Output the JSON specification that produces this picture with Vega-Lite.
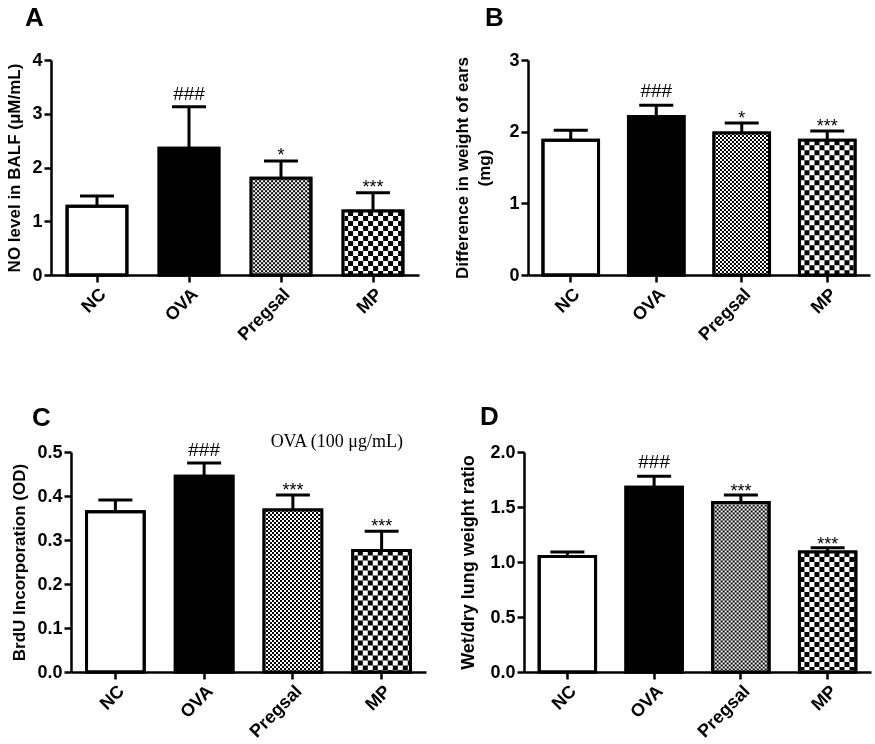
{
  "$schema": "https://vega.github.io/schema/vega-lite/v6.json",
  "background": "white",
  "padding": {"left": 5, "top": 5, "right": 5, "bottom": 5},
  "datasets": {
    "A": [
      {"group": "NC", "mean": 1.28, "upper": 1.47, "label": ""},
      {"group": "OVA", "mean": 2.36, "upper": 3.13, "label": "###"},
      {"group": "Pregsal", "mean": 1.80, "upper": 2.12, "label": "*"},
      {"group": "MP", "mean": 1.19, "upper": 1.53, "label": "***"}
    ],
    "B": [
      {"group": "NC", "mean": 1.88, "upper": 2.02, "label": ""},
      {"group": "OVA", "mean": 2.21, "upper": 2.37, "label": "###"},
      {"group": "Pregsal", "mean": 1.98, "upper": 2.12, "label": "*"},
      {"group": "MP", "mean": 1.88, "upper": 2.01, "label": "***"}
    ],
    "C": [
      {"group": "NC", "mean": 0.364, "upper": 0.391, "label": ""},
      {"group": "OVA", "mean": 0.445, "upper": 0.475, "label": "###"},
      {"group": "Pregsal", "mean": 0.368, "upper": 0.402, "label": "***"},
      {"group": "MP", "mean": 0.276, "upper": 0.320, "label": "***"}
    ],
    "D": [
      {"group": "NC", "mean": 1.05, "upper": 1.09, "label": ""},
      {"group": "OVA", "mean": 1.68, "upper": 1.78, "label": "###"},
      {"group": "Pregsal", "mean": 1.54, "upper": 1.61, "label": "***"},
      {"group": "MP", "mean": 1.09, "upper": 1.13, "label": "***"}
    ]
  },
  "columns": 1,
  "align": "none",
  "spacing": 60,
  "resolve": {"scale": {"x": "independent", "y": "independent", "fill": "independent", "strokeDash": "independent", "strokeWidth": "independent"}},
  "concat": [
    {
      "hconcat": [
        {
          "width": 368, "height": 215,
          "title": {"text": "A", "dx": -26, "offset": 20},
          "data": {"name": "A"},
          "encoding": {"x": {"field": "group", "type": "nominal", "scale": {"domain": ["NC", "OVA", "Pregsal", "MP"], "paddingInner": 0.35, "paddingOuter": 0.175}, "axis": {"zindex": 1}}},
          "layer": [
            {"mark": {"type": "bar", "stroke": "black", "strokeWidth": 3},
             "encoding": {"y": {"field": "mean", "type": "quantitative", "scale": {"domain": [0, 4], "nice": false}, "axis": {"zindex": 1, "values": [0, 1, 2, 3, 4], "format": "d", "title": "NO level in BALF (μM/mL)"}},
                          "fill": {"field": "group", "scale": {"domain": ["NC", "OVA", "Pregsal", "MP"], "range": ["white", "black", "white", "white"]}, "legend": null}}},
            {"transform": [{"filter": "datum.group == 'Pregsal' || datum.group == 'MP'"}],
             "mark": {"type": "rule", "color": "black", "strokeWidth": 59.8},
             "encoding": {"y": {"field": "mean", "type": "quantitative"}, "y2": {"datum": 0},
                          "strokeDash": {"field": "group", "scale": {"domain": ["Pregsal", "MP"], "range": [[2, 2], [5, 5]]}, "legend": null}}},
            {"transform": [{"filter": "datum.group == 'Pregsal' || datum.group == 'MP'"}],
             "mark": {"type": "rule", "color": "white", "blend": "difference", "yOffset": {"expr": "datum.mean * 26.875"}},
             "encoding": {"x": {"field": "group", "type": "nominal", "bandPosition": 0}, "x2": {"field": "group", "bandPosition": 1},
                          "y": {"field": "mean", "type": "quantitative"},
                          "strokeWidth": {"field": "mean", "type": "quantitative", "scale": {"domain": [0, 4], "range": [0, 215]}, "legend": null},
                          "strokeDash": {"field": "group", "legend": null}}},
            {"mark": {"type": "bar", "fill": "transparent", "stroke": "black", "strokeWidth": 3},
             "encoding": {"y": {"field": "mean", "type": "quantitative"}}},
            {"mark": {"type": "rule", "color": "black", "strokeWidth": 3},
             "encoding": {"y": {"field": "mean", "type": "quantitative"}, "y2": {"field": "upper"}}},
            {"mark": {"type": "tick", "color": "black", "size": 34, "thickness": 3, "opacity": 1},
             "encoding": {"y": {"field": "upper", "type": "quantitative"}}},
            {"transform": [{"filter": "datum.label == '###'"}],
             "mark": {"type": "text", "fontSize": 19, "dy": -7, "baseline": "alphabetic", "color": "black"},
             "encoding": {"y": {"field": "upper", "type": "quantitative"}, "text": {"field": "label"}}},
            {"transform": [{"filter": "indexof(datum.label, '*') >= 0"}],
             "mark": {"type": "text", "fontSize": 18, "dy": 0, "baseline": "alphabetic", "color": "black"},
             "encoding": {"y": {"field": "upper", "type": "quantitative"}, "text": {"field": "label"}}}
          ]
        },
        {
          "width": 342, "height": 215,
          "title": {"text": "B", "dx": -43, "offset": 20},
          "data": {"name": "B"},
          "encoding": {"x": {"field": "group", "type": "nominal", "scale": {"domain": ["NC", "OVA", "Pregsal", "MP"], "paddingInner": 0.35, "paddingOuter": 0.175}, "axis": {"zindex": 1}}},
          "layer": [
            {"mark": {"type": "bar", "stroke": "black", "strokeWidth": 3},
             "encoding": {"y": {"field": "mean", "type": "quantitative", "scale": {"domain": [0, 3], "nice": false}, "axis": {"zindex": 1, "values": [0, 1, 2, 3], "format": "d", "title": ["Difference in weight of ears", "(mg)"], "titlePadding": 15, "titleLineHeight": 22}},
                          "fill": {"field": "group", "scale": {"domain": ["NC", "OVA", "Pregsal", "MP"], "range": ["white", "black", "white", "white"]}, "legend": null}}},
            {"transform": [{"filter": "datum.group == 'Pregsal' || datum.group == 'MP'"}],
             "mark": {"type": "rule", "color": "black", "strokeWidth": 55.6},
             "encoding": {"y": {"field": "mean", "type": "quantitative"}, "y2": {"datum": 0},
                          "strokeDash": {"field": "group", "scale": {"domain": ["Pregsal", "MP"], "range": [[2, 2], [5, 5]]}, "legend": null}}},
            {"transform": [{"filter": "datum.group == 'Pregsal' || datum.group == 'MP'"}],
             "mark": {"type": "rule", "color": "white", "blend": "difference", "yOffset": {"expr": "datum.mean * 35.8333"}},
             "encoding": {"x": {"field": "group", "type": "nominal", "bandPosition": 0}, "x2": {"field": "group", "bandPosition": 1},
                          "y": {"field": "mean", "type": "quantitative"},
                          "strokeWidth": {"field": "mean", "type": "quantitative", "scale": {"domain": [0, 3], "range": [0, 215]}, "legend": null},
                          "strokeDash": {"field": "group", "legend": null}}},
            {"mark": {"type": "bar", "fill": "transparent", "stroke": "black", "strokeWidth": 3},
             "encoding": {"y": {"field": "mean", "type": "quantitative"}}},
            {"mark": {"type": "rule", "color": "black", "strokeWidth": 3},
             "encoding": {"y": {"field": "mean", "type": "quantitative"}, "y2": {"field": "upper"}}},
            {"mark": {"type": "tick", "color": "black", "size": 34, "thickness": 3, "opacity": 1},
             "encoding": {"y": {"field": "upper", "type": "quantitative"}}},
            {"transform": [{"filter": "datum.label == '###'"}],
             "mark": {"type": "text", "fontSize": 19, "dy": -8, "baseline": "alphabetic", "color": "black"},
             "encoding": {"y": {"field": "upper", "type": "quantitative"}, "text": {"field": "label"}}},
            {"transform": [{"filter": "indexof(datum.label, '*') >= 0"}],
             "mark": {"type": "text", "fontSize": 18, "dy": 1, "baseline": "alphabetic", "color": "black"},
             "encoding": {"y": {"field": "upper", "type": "quantitative"}, "text": {"field": "label"}}}
          ]
        }
      ],
      "spacing": 18,
      "resolve": {"scale": {"x": "independent", "y": "independent", "fill": "independent", "strokeDash": "independent", "strokeWidth": "independent"}}
    },
    {
      "hconcat": [
        {
          "hconcat": [
            {"width": 0, "height": 10, "data": {"values": []}, "mark": {"type": "point", "opacity": 0}},
            {
              "width": 355, "height": 220,
              "title": {"text": "C", "dx": -39, "offset": 2},
              "data": {"name": "C"},
              "encoding": {"x": {"field": "group", "type": "nominal", "scale": {"domain": ["NC", "OVA", "Pregsal", "MP"], "paddingInner": 0.35, "paddingOuter": 0.175}, "axis": {"zindex": 1}}},
              "layer": [
                {"mark": {"type": "bar", "stroke": "black", "strokeWidth": 3},
                 "encoding": {"y": {"field": "mean", "type": "quantitative", "scale": {"domain": [0, 0.5], "nice": false}, "axis": {"zindex": 1, "values": [0, 0.1, 0.2, 0.3, 0.4, 0.5], "format": ".1f", "title": "BrdU Incorporation (OD)"}},
                              "fill": {"field": "group", "scale": {"domain": ["NC", "OVA", "Pregsal", "MP"], "range": ["white", "black", "white", "white"]}, "legend": null}}},
                {"transform": [{"filter": "datum.group == 'Pregsal' || datum.group == 'MP'"}],
                 "mark": {"type": "rule", "color": "black", "strokeWidth": 57.7},
                 "encoding": {"y": {"field": "mean", "type": "quantitative"}, "y2": {"datum": 0},
                              "strokeDash": {"field": "group", "scale": {"domain": ["Pregsal", "MP"], "range": [[2, 2], [5, 5]]}, "legend": null}}},
                {"transform": [{"filter": "datum.group == 'Pregsal' || datum.group == 'MP'"}],
                 "mark": {"type": "rule", "color": "white", "blend": "difference", "yOffset": {"expr": "datum.mean * 220"}},
                 "encoding": {"x": {"field": "group", "type": "nominal", "bandPosition": 0}, "x2": {"field": "group", "bandPosition": 1},
                              "y": {"field": "mean", "type": "quantitative"},
                              "strokeWidth": {"field": "mean", "type": "quantitative", "scale": {"domain": [0, 0.5], "range": [0, 220]}, "legend": null},
                              "strokeDash": {"field": "group", "legend": null}}},
                {"mark": {"type": "bar", "fill": "transparent", "stroke": "black", "strokeWidth": 3},
                 "encoding": {"y": {"field": "mean", "type": "quantitative"}}},
                {"mark": {"type": "rule", "color": "black", "strokeWidth": 3},
                 "encoding": {"y": {"field": "mean", "type": "quantitative"}, "y2": {"field": "upper"}}},
                {"mark": {"type": "tick", "color": "black", "size": 34, "thickness": 3, "opacity": 1},
                 "encoding": {"y": {"field": "upper", "type": "quantitative"}}},
                {"transform": [{"filter": "datum.label == '###'"}],
                 "mark": {"type": "text", "fontSize": 19, "dy": -7, "baseline": "alphabetic", "color": "black"},
                 "encoding": {"y": {"field": "upper", "type": "quantitative"}, "text": {"field": "label"}}},
                {"transform": [{"filter": "indexof(datum.label, '*') >= 0"}],
                 "mark": {"type": "text", "fontSize": 18, "dy": 1, "baseline": "alphabetic", "color": "black"},
                 "encoding": {"y": {"field": "upper", "type": "quantitative"}, "text": {"field": "label"}}},
                {"data": {"values": [{"note": "OVA (100 μg/mL)", "pos": 0.523}]},
                 "mark": {"type": "text", "font": "Liberation Serif", "fontSize": 18, "align": "center", "baseline": "middle", "dx": -16, "color": "black"},
                 "encoding": {"x": {"datum": "MP", "bandPosition": 0}, "y": {"field": "pos", "type": "quantitative"}, "text": {"field": "note"}}}
              ]
            }
          ],
          "spacing": -77,
          "resolve": {"scale": {"x": "independent", "y": "independent", "fill": "independent", "strokeDash": "independent", "strokeWidth": "independent"}}
        },
        {
          "width": 347, "height": 220,
          "title": {"text": "D", "dx": -44, "offset": 13},
          "data": {"name": "D"},
          "encoding": {"x": {"field": "group", "type": "nominal", "scale": {"domain": ["NC", "OVA", "Pregsal", "MP"], "paddingInner": 0.35, "paddingOuter": 0.175}, "axis": {"zindex": 1}}},
          "layer": [
            {"mark": {"type": "bar", "stroke": "black", "strokeWidth": 3},
             "encoding": {"y": {"field": "mean", "type": "quantitative", "scale": {"domain": [0, 2], "nice": false}, "axis": {"zindex": 1, "values": [0, 0.5, 1, 1.5, 2], "format": ".1f", "title": "Wet/dry lung weight ratio", "titleFontSize": 18, "titlePadding": 12}},
                          "fill": {"field": "group", "scale": {"domain": ["NC", "OVA", "Pregsal", "MP"], "range": ["white", "black", "white", "white"]}, "legend": null}}},
            {"transform": [{"filter": "datum.group == 'Pregsal' || datum.group == 'MP'"}],
             "mark": {"type": "rule", "color": "black", "strokeWidth": 56.4},
             "encoding": {"y": {"field": "mean", "type": "quantitative"}, "y2": {"datum": 0},
                          "strokeDash": {"field": "group", "scale": {"domain": ["Pregsal", "MP"], "range": [[2, 2], [5, 5]]}, "legend": null}}},
            {"transform": [{"filter": "datum.group == 'Pregsal' || datum.group == 'MP'"}],
             "mark": {"type": "rule", "color": "white", "blend": "difference", "yOffset": {"expr": "datum.mean * 55"}},
             "encoding": {"x": {"field": "group", "type": "nominal", "bandPosition": 0}, "x2": {"field": "group", "bandPosition": 1},
                          "y": {"field": "mean", "type": "quantitative"},
                          "strokeWidth": {"field": "mean", "type": "quantitative", "scale": {"domain": [0, 2], "range": [0, 220]}, "legend": null},
                          "strokeDash": {"field": "group", "legend": null}}},
            {"mark": {"type": "bar", "fill": "transparent", "stroke": "black", "strokeWidth": 3},
             "encoding": {"y": {"field": "mean", "type": "quantitative"}}},
            {"mark": {"type": "rule", "color": "black", "strokeWidth": 3},
             "encoding": {"y": {"field": "mean", "type": "quantitative"}, "y2": {"field": "upper"}}},
            {"mark": {"type": "tick", "color": "black", "size": 34, "thickness": 3, "opacity": 1},
             "encoding": {"y": {"field": "upper", "type": "quantitative"}}},
            {"transform": [{"filter": "datum.label == '###'"}],
             "mark": {"type": "text", "fontSize": 19, "dy": -8, "baseline": "alphabetic", "color": "black"},
             "encoding": {"y": {"field": "upper", "type": "quantitative"}, "text": {"field": "label"}}},
            {"transform": [{"filter": "indexof(datum.label, '*') >= 0"}],
             "mark": {"type": "text", "fontSize": 18, "dy": 2, "baseline": "alphabetic", "color": "black"},
             "encoding": {"y": {"field": "upper", "type": "quantitative"}, "text": {"field": "label"}}}
          ]
        }
      ],
      "spacing": -13,
      "resolve": {"scale": {"x": "independent", "y": "independent", "fill": "independent", "strokeDash": "independent", "strokeWidth": "independent"}}
    }
  ],
  "config": {
    "view": {"stroke": null},
    "font": "Liberation Sans",
    "axis": {"domainColor": "black", "domainWidth": 2.5, "tickColor": "black", "tickWidth": 2.5, "tickSize": 7, "labelColor": "black", "labelFont": "Liberation Sans", "labelFontWeight": "bold", "labelFontSize": 18, "labelPadding": 2, "titleColor": "black", "titleFont": "Liberation Sans", "titleFontWeight": "bold", "titleFontSize": 17, "titlePadding": 8, "grid": false},
    "axisX": {"labelAngle": -45, "title": null, "labelPadding": 3},
    "title": {"anchor": "start", "frame": "group", "fontSize": 26, "fontWeight": "bold", "font": "Liberation Sans", "color": "black"}
  }
}
